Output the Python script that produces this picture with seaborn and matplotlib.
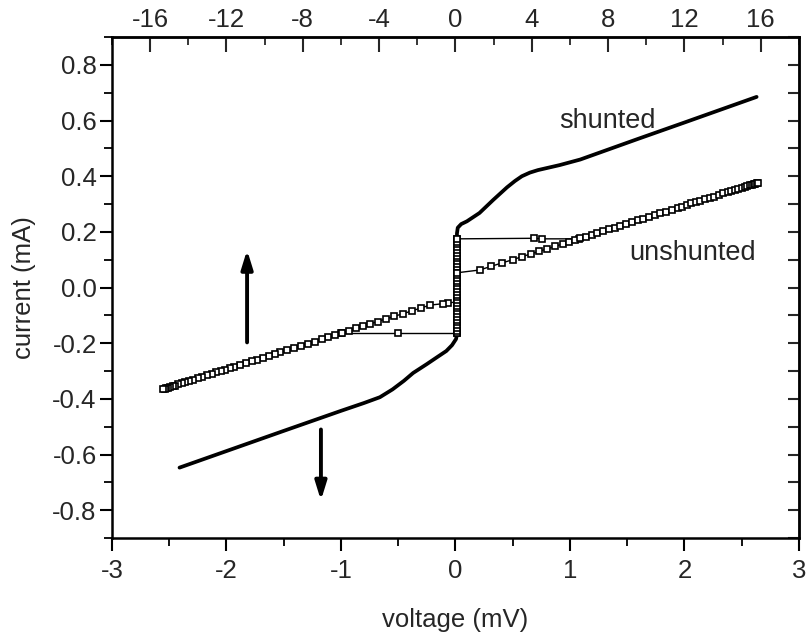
import numpy as np
import pandas as pd
import matplotlib
matplotlib.use("Agg")
import matplotlib.pyplot as plt
from matplotlib.ticker import MultipleLocator
import seaborn as sns

# ---------------- data ----------------
# shunted junction I-V (solid thick curve)
shunted_v = [-2.41, -1.90, -1.50, -1.00, -0.80, -0.66, -0.55, -0.45, -0.37, -0.25,
             -0.16, -0.08, -0.03, 0.005, 0.015, 0.013, 0.013, 0.02, 0.05, 0.10,
             0.21, 0.33, 0.45, 0.52, 0.58, 0.65, 0.72, 0.91, 1.09, 1.60, 2.00, 2.63]
shunted_i = [-0.647, -0.573, -0.515, -0.443, -0.415, -0.394, -0.366, -0.335, -0.307, -0.275,
             -0.250, -0.228, -0.207, -0.185, -0.165, 0.000, 0.195, 0.215, 0.228, 0.238,
             0.268, 0.315, 0.360, 0.383, 0.400, 0.413, 0.422, 0.440, 0.460, 0.535, 0.593, 0.685]

# unshunted junction: supercurrent branch (vertical)
super_v = [0.012, 0.012, 0.012, 0.012, 0.012, 0.012, 0.012, 0.012, 0.012, 0.012,
           0.012, 0.012, 0.012, 0.012, 0.012, 0.012, 0.012, 0.012, 0.012, 0.012,
           0.012, 0.012, 0.012, 0.012, 0.012, 0.012, 0.012, 0.012, 0.012, 0.012,
           0.012, 0.012, 0.012, 0.012, 0.012]
super_i = [-0.165, -0.155, -0.145, -0.135, -0.125, -0.115, -0.105, -0.095, -0.085, -0.075,
           -0.065, -0.055, -0.045, -0.035, -0.025, -0.015, -0.005, 0.005, 0.015, 0.025,
           0.035, 0.045, 0.055, 0.065, 0.075, 0.085, 0.095, 0.105, 0.115, 0.125,
           0.135, 0.145, 0.155, 0.165, 0.175]

# switching jumps
jump_up_v = [0.012, 0.69, 0.76, 1.08]
jump_up_i = [0.175, 0.177, 0.175, 0.175]
jump_down_v = [0.012, -0.50, -1.00]
jump_down_i = [-0.165, -0.165, -0.165]

# resistive branches
upper_v = [0.012, 0.21, 0.31, 0.41, 0.50, 0.58, 0.66, 0.73, 0.80, 0.87,
           0.94, 0.99, 1.04, 1.09, 1.14, 1.19, 1.24, 1.29, 1.34, 1.39,
           1.44, 1.49, 1.54, 1.59, 1.64, 1.69, 1.74, 1.79, 1.84, 1.89,
           1.94, 1.98, 2.02, 2.06, 2.10, 2.14, 2.18, 2.22, 2.26, 2.30,
           2.34, 2.38, 2.41, 2.44, 2.47, 2.50, 2.53, 2.55, 2.57, 2.59,
           2.61, 2.62, 2.63, 2.64]
upper_i = [0.053, 0.063, 0.076, 0.089, 0.100, 0.111, 0.121, 0.130, 0.139, 0.148,
           0.157, 0.164, 0.170, 0.177, 0.183, 0.189, 0.196, 0.202, 0.209, 0.215,
           0.222, 0.228, 0.235, 0.241, 0.247, 0.254, 0.260, 0.267, 0.273, 0.280,
           0.286, 0.291, 0.296, 0.302, 0.307, 0.312, 0.317, 0.322, 0.327, 0.333,
           0.338, 0.343, 0.347, 0.351, 0.355, 0.358, 0.362, 0.365, 0.367, 0.370,
           0.372, 0.373, 0.375, 0.376]
lower_v = [0.012, -0.065, -0.11, -0.22, -0.30, -0.38, -0.46, -0.54, -0.61, -0.68,
           -0.75, -0.81, -0.87, -0.93, -0.99, -1.05, -1.11, -1.17, -1.23, -1.29,
           -1.35, -1.41, -1.47, -1.53, -1.58, -1.63, -1.68, -1.73, -1.78, -1.83,
           -1.88, -1.93, -1.97, -2.01, -2.05, -2.09, -2.13, -2.17, -2.21, -2.25,
           -2.29, -2.33, -2.36, -2.39, -2.42, -2.45, -2.47, -2.49, -2.51, -2.53,
           -2.54, -2.55]
lower_i = [-0.052, -0.055, -0.058, -0.063, -0.073, -0.084, -0.094, -0.104, -0.113, -0.122,
           -0.131, -0.139, -0.147, -0.155, -0.163, -0.170, -0.178, -0.186, -0.194, -0.202,
           -0.209, -0.217, -0.225, -0.233, -0.239, -0.246, -0.252, -0.259, -0.265, -0.272,
           -0.278, -0.285, -0.290, -0.295, -0.300, -0.305, -0.311, -0.316, -0.321, -0.326,
           -0.331, -0.336, -0.340, -0.344, -0.348, -0.352, -0.355, -0.357, -0.360, -0.362,
           -0.364, -0.365]

y_ticks = [-0.8, -0.6, -0.4, -0.2, 0.0, 0.2, 0.4, 0.6, 0.8]
x_ticks = [-3, -2, -1, 0, 1, 2, 3]
top_ticks = [-16, -12, -8, -4, 0, 4, 8, 12, 16]

# ---------------- assemble ----------------
branches = [("super", super_v, super_i), ("jump_up", jump_up_v, jump_up_i),
            ("jump_down", jump_down_v, jump_down_i), ("upper", upper_v, upper_i),
            ("lower", lower_v, lower_i)]
frames = []
for name, v, i in branches:
    frames.append(pd.DataFrame({"voltage": v, "current": i, "branch": name}))
uns = pd.concat(frames, ignore_index=True)
shu = pd.DataFrame({"voltage": shunted_v, "current": shunted_i})

# ---------------- style ----------------
sns.set_style("ticks")
plt.rcParams["font.family"] = ["Liberation Sans", "DejaVu Sans"]
plt.rcParams["axes.unicode_minus"] = False

fig = plt.figure(figsize=(8.09, 6.39), dpi=100)
ax = fig.add_axes([0.1384, 0.158, 0.8492, 0.784])

sns.lineplot(data=shu, x="voltage", y="current", sort=False, estimator=None,
             color="black", lw=2.7, ax=ax)
sns.lineplot(data=uns, x="voltage", y="current", units="branch", estimator=None,
             sort=False, color="black", lw=1.0, marker="s", markersize=4.6,
             markerfacecolor="white", markeredgecolor="black", markeredgewidth=1.2,
             ax=ax)

ax.set_xlim(-3, 3)
ax.set_ylim(-0.9, 0.9)
ax.set_xticks(x_ticks)
ax.set_xticklabels([str(t) for t in x_ticks])
ax.set_yticks(y_ticks)
ax.set_yticklabels([f"{t:.1f}" for t in y_ticks])
ax.xaxis.set_minor_locator(MultipleLocator(0.5))
ax.yaxis.set_minor_locator(MultipleLocator(0.1))

fs = 18.5
ax.tick_params(axis="both", which="major", direction="out", length=9, width=1.5,
               labelsize=fs, color="black")
ax.tick_params(axis="x", which="major", pad=6)
ax.tick_params(axis="y", which="major", pad=2)
ax.tick_params(axis="both", which="minor", direction="out", length=6, width=1.3,
               color="black")
ax.set_xlabel("voltage (mV)", fontsize=fs, labelpad=18)
ax.set_ylabel("current (mA)", fontsize=fs, labelpad=12)

for s in ax.spines.values():
    s.set_visible(True)
    s.set_linewidth(1.8)
    s.set_color("black")

top = ax.secondary_xaxis("top", functions=(lambda x: x * 6, lambda x: x / 6))
top.set_xticks(top_ticks)
top.set_xticklabels([str(t) for t in top_ticks])
top.xaxis.set_minor_locator(MultipleLocator(2))
top.tick_params(which="major", direction="in", length=11, width=1.5, labelsize=fs, pad=4)
top.tick_params(which="minor", direction="in", length=6, width=1.3)
top.spines["top"].set_linewidth(1.8)

right = ax.secondary_yaxis("right")
right.yaxis.set_major_locator(MultipleLocator(0.1))
right.tick_params(which="major", direction="in", length=8, width=1.5, labelright=False)
right.spines["right"].set_linewidth(1.8)

# sweep-direction arrows
ax.annotate("", xy=(-1.82, 0.145), xytext=(-1.82, -0.207),
            arrowprops=dict(arrowstyle="-|>,head_length=0.55,head_width=0.17",
                            color="black", lw=2.8, mutation_scale=20))
ax.annotate("", xy=(-1.175, -0.775), xytext=(-1.175, -0.50),
            arrowprops=dict(arrowstyle="-|>,head_length=0.55,head_width=0.17",
                            color="black", lw=2.8, mutation_scale=20))

ax.text(1.33, 0.60, "shunted", fontsize=fs + 1, ha="center", va="center")
ax.text(2.07, 0.124, "unshunted", fontsize=fs + 1, ha="center", va="center")

fig.savefig("out.png", dpi=100)
